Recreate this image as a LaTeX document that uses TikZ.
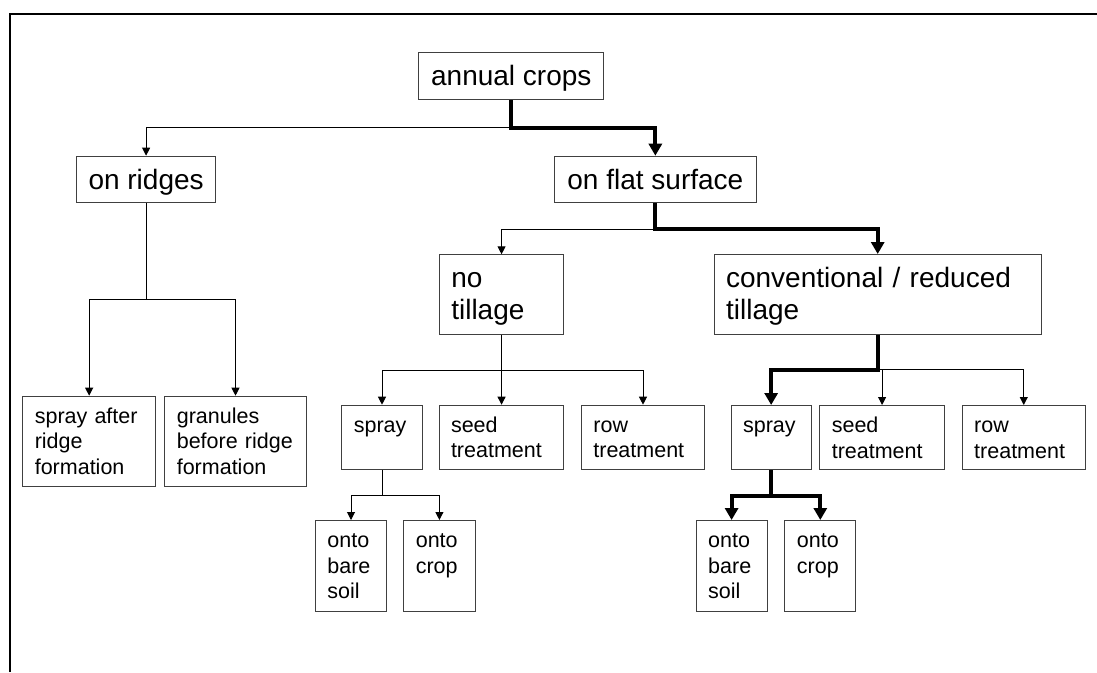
\documentclass[tikz,border=0pt]{standalone}
\usepackage{fontspec}
\setmainfont{Liberation Sans}
\usetikzlibrary{arrows.meta}

\tikzset{
  bigbox/.style={draw=black!75, line width=1pt, anchor=north west, inner xsep=12pt, inner ysep=0pt,
    text height=33pt, font=\fontsize{28}{32}\selectfont},
  smallbox/.style={bigbox, align=left, text height=27pt, font=\fontsize{21.5}{25.7}\selectfont},
  thinline/.style={line width=1pt},
  thickline/.style={line width=4pt},
  thinarrow/.style={thinline, -{Triangle[length=8pt,width=8pt]}},
  thickarrow/.style={thickline, -{Triangle[length=12pt,width=13pt]}}
}

\begin{document}
\begin{tikzpicture}[x=1pt,y=-1pt]
  \useasboundingbox (0,0) rectangle (1097,672);
  \draw[line width=2pt] (10,672) -- (10,14.2) -- (1097,14.2);

  % top levels
  \node[bigbox, minimum width=185pt, text depth=13.7pt] (crops) at (418.3,52.3) {annual crops};
  \node[bigbox, minimum width=139.6pt, text depth=13.6pt] (ridges) at (75.8,155.7) {on ridges};
  \node[bigbox, minimum width=201.3pt, text depth=13.6pt] (flat) at (554.2,155.7) {on flat surface};
  \node[bigbox, align=left, text width=100.5pt, text depth=46.4pt] (notill) at (438.8,254.3) {no\\tillage};
  \node[bigbox, align=left, text width=303.2pt, text depth=47.3pt] (convtill) at (713.6,254) {conventional / reduced\\tillage};

  % ridges
  \node[smallbox, text width=108.7pt, text depth=63.3pt] (sprayafter) at (22.3,395.7) {spray after\\ridge\\formation};
  \node[smallbox, text width=117.4pt, text depth=63.3pt] (granules) at (164.3,395.7) {granules\\before ridge\\formation};

  % no tillage
  \node[smallbox, text width=56.4pt, text depth=37.6pt] (nspray) at (341.3,404.7) {spray};
  \node[smallbox, text width=100.8pt, text depth=37.6pt] (nseed) at (438.5,404.7) {seed\\treatment};
  \node[smallbox, text width=99.2pt, text depth=37.6pt] (nrow) at (580.9,404.7) {row\\treatment};
  \node[smallbox, text width=47.2pt, text depth=63.7pt] (nbare) at (314.9,520) {onto\\bare\\soil};
  \node[smallbox, text width=47.2pt, text depth=63.7pt] (ncrop) at (403.3,520) {onto\\crop};

  % conventional / reduced tillage
  \node[smallbox, text width=56.1pt, text depth=37.4pt] (cspray) at (730.6,405) {spray};
  \node[smallbox, text width=100.6pt, text depth=37.4pt] (cseed) at (819.3,405) {seed\\treatment};
  \node[smallbox, text width=99.1pt, text depth=37.4pt] (crow) at (961.7,405) {row\\treatment};
  \node[smallbox, text width=46.8pt, text depth=63.7pt] (cbare) at (695.7,520) {onto\\bare\\soil};
  \node[smallbox, text width=46.8pt, text depth=63.7pt] (ccrop) at (784.4,520) {onto\\crop};

  % forks
  \coordinate (cropsfork) at ([yshift=-27.7pt]crops.south);
  \coordinate (ridgesfork) at ([yshift=-96pt]ridges.south);
  \coordinate (flatfork) at ([yshift=-26pt]flat.south);
  \coordinate (notillfork) at ([yshift=-35.3pt]notill.south);
  \coordinate (convfork) at ([yshift=-34.4pt]convtill.south);
  \coordinate (nsprayfork) at ([yshift=-25.4pt]nspray.south);
  \coordinate (csprayfork) at ([yshift=-25.3pt]cspray.south);

  % thin connectors
  \draw[thinarrow] (cropsfork) -| (ridges.north);
  \draw[thinline] (ridges.south) -- (ridgesfork);
  \foreach \n in {sprayafter,granules}
    \draw[thinarrow] (ridgesfork) -| (\n.north);
  \draw[thinarrow] (flatfork) -| (notill.north);
  \draw[thinarrow] (notill.south) -- (notill.south |- nseed.north);
  \foreach \n in {nspray,nrow}
    \draw[thinarrow] (notillfork) -| (\n.north);
  \draw[thinarrow] (convfork) -| (crow.north);
  \draw[thinarrow] (convfork -| cseed.north) -- (cseed.north);
  \draw[thinline] (nspray.south) -- (nsprayfork);
  \foreach \n in {nbare,ncrop}
    \draw[thinarrow] (nsprayfork) -| (\n.north);

  % thick connectors
  \draw[thickarrow] (crops.south) -- (cropsfork) -| (flat.north);
  \draw[thickarrow] (flat.south) -- (flatfork) -| (convtill.north);
  \draw[thickarrow] (convtill.south) -- (convfork) -| (cspray.north);
  \draw[thickline] (cspray.south) -- (csprayfork);
  \foreach \n in {cbare,ccrop}
    \draw[thickarrow] (csprayfork) -| (\n.north);
\end{tikzpicture}
\end{document}
